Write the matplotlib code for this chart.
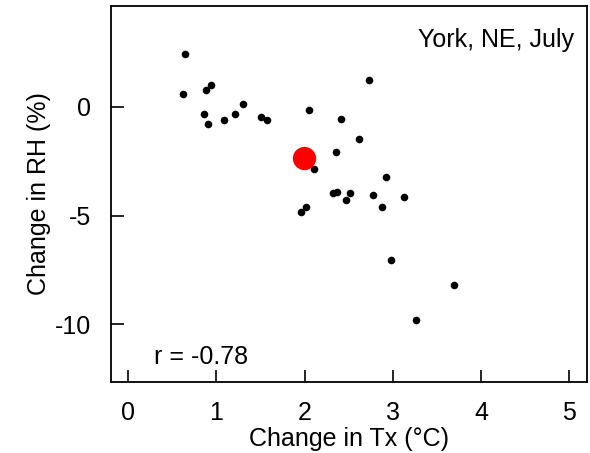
import numpy as np
import matplotlib.pyplot as plt

plt.rcParams['font.family'] = ['Liberation Sans', 'DejaVu Sans']
plt.rcParams['axes.unicode_minus'] = False

# change in max temperature (C) and relative humidity (%) per model run
tx = [0.64, 0.62, 0.94, 0.88, 0.86, 0.90, 1.09, 1.21, 1.30, 1.51,
      1.57, 2.05, 2.41, 2.11, 2.35, 2.32, 2.37, 2.73, 2.62, 2.92,
      2.51, 2.47, 2.77, 3.13, 2.88, 2.02, 1.96, 2.98, 3.69, 3.26]
rh = [2.45, 0.60, 0.99, 0.77, -0.31, -0.77, -0.62, -0.31, 0.15, -0.46,
      -0.62, -0.16, -0.54, -2.84, -2.08, -3.98, -3.91, 1.22, -1.47, -3.23,
      -3.98, -4.29, -4.06, -4.14, -4.60, -4.60, -4.85, -7.02, -8.18, -9.80]

# ensemble mean
mean_tx = [1.99]
mean_rh = [-2.33]

site = "York, NE, July"
r_text = "r = -0.78"

fig = plt.figure(figsize=(5.9, 4.53), dpi=100)
ax = fig.add_axes([0.1873, 0.1574, 0.8076, 0.8294])

ax.scatter(tx, rh, s=30, color='black', linewidths=0, zorder=3)
ax.scatter(mean_tx, mean_rh, s=280, color='red', linewidths=0, zorder=4)

ax.set_xlim(-0.2, 5.2)
ax.set_ylim(-12.64, 4.64)
ax.set_xticks([0, 1, 2, 3, 4, 5])
ax.set_yticks([0, -5, -10])

for s in ax.spines.values():
    s.set_linewidth(1.3)
ax.tick_params(direction='in', length=9, width=1.2, labelsize=18, pad=14)

ax.set_xlabel("Change in Tx (°C)", fontsize=18, labelpad=1)
ax.set_ylabel("Change in RH (%)", fontsize=18, labelpad=3)

ax.text(5.05, 2.75, site, ha='right', va='baseline', fontsize=18)
ax.text(0.29, -11.84, r_text, ha='left', va='baseline', fontsize=18)

fig.savefig("out.png", dpi=100)
